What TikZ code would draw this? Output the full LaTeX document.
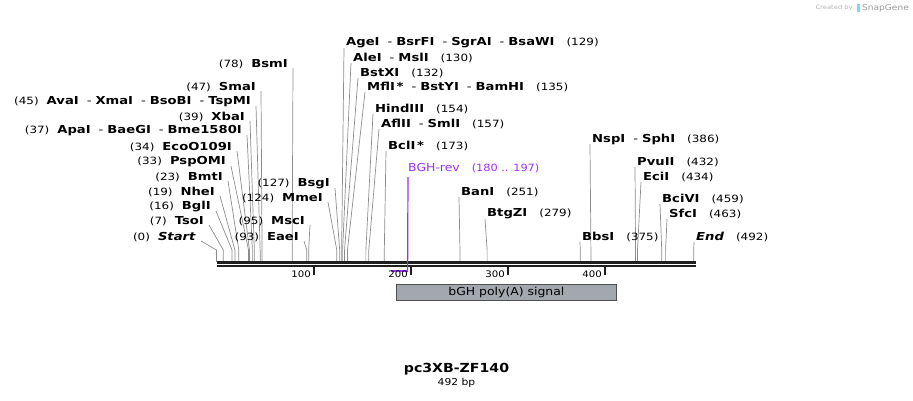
\documentclass[tikz,border=0pt]{standalone}
\usepackage{fontspec}
\setmainfont[FakeStretch=1.13]{DejaVu Sans}
\newfontfamily\labfont[FakeStretch=1.195]{DejaVu Sans}
\definecolor{conncol}{HTML}{8C8C8C}
\definecolor{linecol}{HTML}{1E1E1E}
\definecolor{primcol}{HTML}{A030F0}
\definecolor{featfill}{HTML}{A3A8AF}
\definecolor{featdraw}{HTML}{505050}
\newcommand\mynm[1]{{\fontsize{10}{11}\selectfont\mdseries #1}}
\newcommand\mysep{\hspace{8pt}{\mdseries -}\hspace{4pt}}
\begin{document}
\begin{tikzpicture}[x=1pt,y=-1pt,
  lab/.style={inner sep=0pt, font=\labfont\fontsize{11}{12}\selectfont\bfseries},
  conn/.style={draw=conncol, line width=0.7pt},
  tick/.style={draw=linecol, line width=1.8pt},
  ticklab/.style={inner sep=0pt, anchor=east, font=\fontsize{9}{10}\selectfont}]
\useasboundingbox (0,0) rectangle (913,400);
\def\sx#1{216.5+0.97*#1}
% ---- left labels ----
\newcommand\leftlab[5]{%
  \node[lab, anchor=east] (#1) at (#2,#3) {#5};
  \draw[conn] ([xshift=5pt,yshift=-4pt]#1.east) -- ({\sx{#4}},250) -- ({\sx{#4}},262);}
\newcommand\rightlab[5]{%
  \node[lab, anchor=west] (#1) at (#2,#3) {#5};
  \draw[conn] ([xshift=-2pt,yshift=-5pt]#1.west) -- ({\sx{#4}},250) -- ({\sx{#4}},262);}
\leftlab{nStart}{196}{237}{0}{\mynm{(0)}\hspace{8pt}\textit{Start}}
\leftlab{nTso}{204}{221}{7}{\mynm{(7)}\hspace{8pt}TsoI}
\leftlab{nBgl}{211}{207}{16}{\mynm{(16)}\hspace{8pt}BglI}
\leftlab{nNhe}{215}{192}{19}{\mynm{(19)}\hspace{8pt}NheI}
\leftlab{nBmt}{223}{177}{23}{\mynm{(23)}\hspace{8pt}BmtI}
\leftlab{nPsp}{226}{162}{33}{\mynm{(33)}\hspace{8pt}PspOMI}
\leftlab{nEco}{232}{147}{34}{\mynm{(34)}\hspace{8pt}EcoO109I}
\leftlab{nApa}{242}{131}{37}{\mynm{(37)}\hspace{8pt}ApaI\mysep BaeGI\mysep Bme1580I}
\leftlab{nXba}{245}{117}{39}{\mynm{(39)}\hspace{8pt}XbaI}
\leftlab{nAva}{251}{102}{45}{\mynm{(45)}\hspace{8pt}AvaI\mysep XmaI\mysep BsoBI\mysep TspMI}
\leftlab{nSma}{256}{87}{47}{\mynm{(47)}\hspace{8pt}SmaI}
\leftlab{nBsm}{288}{64}{78}{\mynm{(78)}\hspace{8pt}BsmI}
\leftlab{nBsg}{330}{184}{127}{\mynm{(127)}\hspace{8pt}BsgI}
\leftlab{nMme}{323}{198}{124}{\mynm{(124)}\hspace{8pt}MmeI}
\leftlab{nMsc}{305}{221}{95}{\mynm{(95)}\hspace{8pt}MscI}
\leftlab{nEae}{299}{237}{93}{\mynm{(93)}\hspace{8pt}EaeI}
% ---- right labels ----
\rightlab{nAge}{346}{43}{129}{AgeI\mysep BsrFI\mysep SgrAI\mysep BsaWI\hspace{12pt}\mynm{(129)}}
\rightlab{nAle}{353}{58}{130}{AleI\mysep MslI\hspace{12pt}\mynm{(130)}}
\rightlab{nBstX}{360}{73}{132}{BstXI\hspace{12pt}\mynm{(132)}}
\rightlab{nMfl}{367}{87}{135}{MflI\,*\mysep BstYI\mysep BamHI\hspace{12pt}\mynm{(135)}}
\rightlab{nHind}{375}{109}{154}{HindIII\hspace{12pt}\mynm{(154)}}
\rightlab{nAfl}{381}{124}{157}{AflII\mysep SmlI\hspace{12pt}\mynm{(157)}}
\rightlab{nBcl}{388}{146}{173}{BclI\,*\hspace{12pt}\mynm{(173)}}
\rightlab{nBan}{461}{192}{251}{BanI\hspace{12pt}\mynm{(251)}}
\rightlab{nBtg}{487}{214}{279}{BtgZI\hspace{12pt}\mynm{(279)}}
\rightlab{nNsp}{592}{139}{386}{NspI\mysep SphI\hspace{12pt}\mynm{(386)}}
\rightlab{nPvu}{637}{162}{432}{PvuII\hspace{12pt}\mynm{(432)}}
\rightlab{nEci}{643}{177}{434}{EciI\hspace{12pt}\mynm{(434)}}
\rightlab{nBci}{662}{199}{459}{BciVI\hspace{12pt}\mynm{(459)}}
\rightlab{nSfc}{669}{214}{463}{SfcI\hspace{12pt}\mynm{(463)}}
\rightlab{nBbs}{582}{237}{375}{BbsI\hspace{12pt}\mynm{(375)}}
\rightlab{nEnd}{696}{237}{492}{\textit{End}\hspace{12pt}\mynm{(492)}}
% ---- primer ----
\node[inner sep=0pt, anchor=west, text=primcol, font=\fontsize{11}{12}\selectfont] (prim) at (408,168) {BGH-rev\hspace{12pt}\mynm{(180 .. 197)}};
\coordinate (pS) at ({\sx{180}},271);
\coordinate (pE) at ({\sx{197}},271);
% ---- backbone ----
\coordinate (bS) at (217,0);
\coordinate (bE) at (696,0);
\draw[draw=linecol, line width=2.3pt] (bS |- 0,262.5) -- (bE |- 0,262.5);
\draw[draw=linecol, line width=2.3pt] (bS |- 0,266.3) -- (bE |- 0,266.3);
\draw[draw=primcol, line width=1.2pt] (prim.south west) ++(0,-4pt) -- (pE |- 0,272);
\draw[draw=primcol, line width=1.8pt] (pS) -- (pE);
% ---- ticks ----
\foreach \v in {100,200,300,400}{
  \draw[tick] ({\sx{\v}+0.5},266) -- ({\sx{\v}+0.5},275);
  \node[ticklab] at ({\sx{\v}-2.5},274) {\v};
}
% ---- feature ----
\node[draw=featdraw, fill=featfill, line width=0.8pt, minimum width=220pt, minimum height=16pt, inner sep=0pt, font=\fontsize{11}{12}\selectfont, anchor=north west] (feat) at (396,284) {bGH poly(A) signal};
% ---- title ----
\node[inner sep=0pt, font=\fontsize{12.5}{14}\selectfont\bfseries] (title) at (456.5,369) {pc3XB-ZF140};
\node[inner sep=0pt, font=\fontsize{9.5}{11}\selectfont] (len) at (456.5,383) {492 bp};
% ---- watermark ----
\node[inner sep=0pt, anchor=east, text=black!30, font=\fontsize{6}{7}\selectfont] (cby) at (853,8) {Created by};
\fill[color=cyan!50] (857,3.5) rectangle (860,12);
\node[inner sep=0pt, anchor=west, text=black!40, font=\fontsize{8}{9}\selectfont] (sg) at (862,8) {SnapGene};
\end{tikzpicture}
\end{document}
